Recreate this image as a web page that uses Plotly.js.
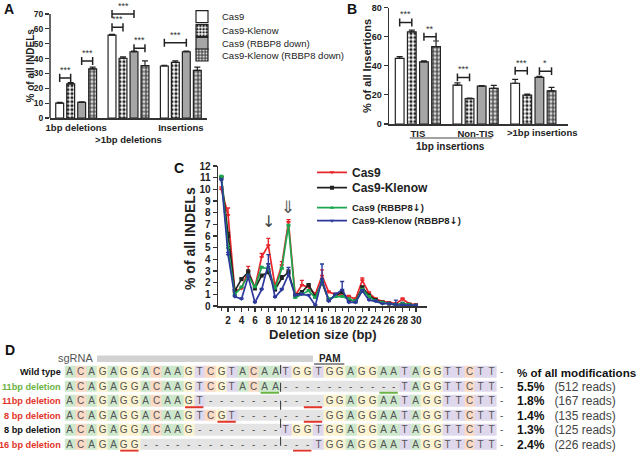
<!DOCTYPE html>
<html><head><meta charset="utf-8">
<script src="https://cdn.plot.ly/plotly-3.0.1.min.js"></script>
<style>html,body{margin:0;padding:0;background:#fff}</style>
</head><body><div id="chart" style="width:642px;height:457px"></div>
<script>
// ---------------- DATA ----------------
const seriesNames = ['Cas9', 'Cas9-Klenow', 'Cas9 (RBBP8 down)', 'Cas9-Klenow (RBBP8 down)'];

// Panel A
const groupsA = ['1bp deletions', '>1bp deletions', 'Insertions'];
const cas9A = [10, 55.8, 35];
const klenowA = [23, 40.2, 37.5];
const cas9RbA = [10.5, 44.6, 44.6];
const klenowRbA = [33, 35.2, 32];
const cas9A_err = [0.6, 0.5, 0.4];
const klenowA_err = [0.8, 0.9, 1];
const cas9RbA_err = [0.3, 0.4, 0.4];
const klenowRbA_err = [1.2, 3.2, 2.2];
const sigA_group = [0, 0, 1, 1, 1, 2];
const sigA_from = [0, 2, 0, 0, 2, 0];
const sigA_to = [1, 3, 1, 2, 3, 2];
const sigA_y = [27, 38.4, 61, 70, 46.9, 50.7];
const sigA_label = ['***', '***', '***', '***', '***', '***'];

// Panel B
const groupsB = ['TIS', 'Non-TIS', '>1bp insertions'];
const cas9B = [45, 26.7, 28];
const klenowB = [63.3, 17.4, 19.8];
const cas9RbB = [42.7, 26, 32];
const klenowRbB = [53.2, 24.5, 22.8];
const cas9B_err = [1.2, 1.6, 2.6];
const klenowB_err = [1.2, 0.4, 0.7];
const cas9RbB_err = [0.6, 0.3, 0.7];
const klenowRbB_err = [3.8, 2, 2.3];
const sigB_group = [0, 0, 1, 2, 2];
const sigB_from = [0, 2, 0, 0, 2];
const sigB_to = [1, 3, 1, 1, 3];
const sigB_y = [69.7, 59.9, 32, 36.6, 36.3];
const sigB_label = ['***', '**', '***', '***', '*'];

// Panel C
const delSize = [1,2,3,4,5,6,7,8,9,10,11,12,13,14,15,16,17,18,19,20,21,22,23,24,25,26,27,28,29,30];
const cas9C =      [10.0,7.8,1.3,1.5,3.0,1.6,4.2,5.2,1.7,3.5,7.2,0.9,1.8,1.6,1.0,2.6,1.2,1.0,0.9,0.8,0.6,2.2,1.1,0.6,0.4,0.3,0.2,0.6,0.2,0.1];
const cas9C_err =  [0.2,0.6,0.1,0.1,0.4,0.1,0.3,0.6,0.1,0.3,0.2,0.1,0.4,0.1,0.1,0.5,0.1,0.1,0.1,0.1,0.1,0.2,0.1,0.1,0.05,0.05,0.05,0.1,0.05,0.05];
const klenowC =    [11.0,6.0,1.3,2.3,2.9,1.5,2.6,2.9,1.4,2.4,2.9,0.9,1.2,1.8,0.8,2.0,0.5,0.9,1.2,0.5,0.4,1.6,0.9,0.5,0.3,0.2,0.1,0.2,0.1,0.05];
const klenowC_err =[0.1,0.3,0.1,0.1,0.2,0.1,0.1,0.3,0.1,0.2,0.2,0.1,0.1,0.1,0.1,0.2,0.1,0.1,0.1,0.1,0.1,0.1,0.1,0.1,0.05,0.05,0.05,0.05,0.05,0.05];
const cas9RbC =    [11.1,5.0,1.0,1.6,2.6,1.6,3.3,3.2,1.5,3.2,6.9,0.7,1.0,1.3,0.7,2.1,0.6,0.8,0.8,0.6,0.4,1.4,0.8,0.4,0.3,0.2,0.1,0.2,0.1,0.05];
const cas9RbC_err =[0.1,0.2,0.1,0.1,0.1,0.1,0.1,0.2,0.1,0.1,0.1,0.1,0.1,0.1,0.1,0.1,0.1,0.1,0.1,0.1,0.1,0.1,0.1,0.1,0.05,0.05,0.05,0.05,0.05,0.05];
const klenowRbC =  [10.8,4.4,0.8,0.6,2.5,0.3,1.4,3.6,0.75,1.4,2.7,0.9,1.0,0.9,0.05,2.3,0.4,1.0,1.4,0.3,0.3,1.3,0.5,0.4,0.2,0.2,0.1,0.1,0.05,0.05];
const klenowRbC_err=[0.1,0.2,0.1,0.1,0.2,0.1,0.1,0.8,0.1,0.1,0.6,0.1,0.1,0.1,0.05,1.3,0.1,0.1,0.7,0.1,0.1,0.1,0.1,0.1,0.05,0.05,0.4,0.05,0.05,0.05];
const legendC = ['Cas9', 'Cas9-Klenow', 'Cas9 (RBBP8\u2193)', 'Cas9-Klenow (RBBP8\u2193)'];

// Panel D
const rowLabels = ['Wild type', '11bp deletion', '11bp deletion', '8 bp deletion', '8 bp deletion', '16 bp deletion'];
const rowLabelColors = ['#111', '#6ab344', '#e2352a', '#e2352a', '#111', '#e2352a'];
const rowSeqs = [
  'ACAGAGGACAAGTCGTACAATGGTGGAGGAATAGGTTCTT-',
  'ACAGAGGACAAGTCGTACAA-----------TAGGTTCTT-',
  'ACAGAGGACAAGT-----------GGAGGAATAGGTTCTT-',
  'ACAGAGGACAAGTCGT--------GGAGGAATAGGTTCTT-',
  'ACAGAGGACAAG--------TGGTGGAGGAATAGGTTCTT-',
  'ACAGAGG----------------TGGAGGAATAGGTTCTT-'
];
const rowPercent = ['% of all modifications', '5.5%', '1.8%', '1.4%', '1.3%', '2.4%'];
const rowReads = [null, 512, 167, 135, 125, 226];
const mhRow = [1, 1, 2, 2, 3, 3, 5, 5];
const mhStart = [18, 29, 11, 22, 14, 22, 5, 21];
const mhColor = ['#6ab344', '#6ab344', '#e2352a', '#e2352a', '#e2352a', '#e2352a', '#e2352a', '#e2352a'];

// ---------------- HELPERS ----------------
const W = 642, H = 457;
const px = v => v / W;
const py = v => 1 - v / H;
const FONT = 'Liberation Sans, Arial, sans-serif';
const BARGAP = 0.16, BARGROUPGAP = 0.28;
function barCenter(g, k) { const slot = (1 - BARGAP) / 4; return g - (1 - BARGAP) / 2 + slot * (k + 0.5); }
const zeros = n => new Array(n).fill(0);
const boldTick = s => ({family: FONT, size: s, color: '#222', weight: 'bold'});

const barStyles = [
  {color: '#ffffff', line: {color: '#222', width: 1.2}},
  {color: '#ffffff', line: {color: '#222', width: 1.2}, pattern: {shape: '.', fgcolor: '#222', bgcolor: '#ffffff', size: 4, solidity: 0.5}},
  {color: '#a6a6a6', line: {color: '#222', width: 1.2}},
  {color: '#555555', line: {color: '#222', width: 1.2}, pattern: {shape: '.', fgcolor: '#d8d8d8', bgcolor: '#555555', size: 4, solidity: 0.45}}
];
const legendKeys = ['legend', 'legend2', 'legend3', 'legend4', 'legend5', 'legend6', 'legend7', 'legend8'];

const traces = [];
const aVals = [cas9A, klenowA, cas9RbA, klenowRbA];
const aErr = [cas9A_err, klenowA_err, cas9RbA_err, klenowRbA_err];
const bVals = [cas9B, klenowB, cas9RbB, klenowRbB];
const bErr = [cas9B_err, klenowB_err, cas9RbB_err, klenowRbB_err];
for (let k = 0; k < 4; k++) {
  traces.push({type: 'bar', x: [0, 1, 2], y: aVals[k], name: seriesNames[k], xaxis: 'x', yaxis: 'y',
    marker: barStyles[k], legend: legendKeys[k], showlegend: true, hoverinfo: 'none',
    error_y: {type: 'data', array: aErr[k], arrayminus: zeros(3), symmetric: false, color: '#222', thickness: 1.2, width: 3}});
}
for (let k = 0; k < 4; k++) {
  traces.push({type: 'bar', x: [0, 1, 2], y: bVals[k], name: seriesNames[k], xaxis: 'x2', yaxis: 'y2',
    marker: barStyles[k], showlegend: false, hoverinfo: 'none',
    error_y: {type: 'data', array: bErr[k], arrayminus: zeros(3), symmetric: false, color: '#222', thickness: 1.2, width: 3}});
}

const cVals = [cas9C, klenowC, cas9RbC, klenowRbC];
const cErr = [cas9C_err, klenowC_err, cas9RbC_err, klenowRbC_err];
const cColors = ['#e8262b', '#222222', '#1ca650', '#2d3a9c'];
const cSymbols = ['triangle-down', 'square', 'triangle-up', 'triangle-down'];
const cLegendNames = legendC.map(s => '<b>' + s.replace('\u2193', '<span style="font-family:DejaVu Sans">\u2193</span>') + '</b>');
for (let k = 0; k < 4; k++) {
  traces.push({type: 'scatter', mode: 'lines+markers', x: delSize, y: cVals[k], name: cLegendNames[k],
    xaxis: 'x3', yaxis: 'y3', legend: legendKeys[4 + k], hoverinfo: 'none', cliponaxis: false,
    line: {color: cColors[k], width: 1.7}, marker: {color: cColors[k], size: 4, symbol: cSymbols[k]},
    error_y: {type: 'data', array: cErr[k], arrayminus: zeros(delSize.length), symmetric: false, color: cColors[k], thickness: 1.4, width: 2}});
}

// Panel D heatmap
const nucCode = {A: 0, C: 1, G: 2, T: 3, '-': 4};
const zD = rowSeqs.map(s => s.split('').map((ch, i) => (i === s.length - 1 ? 5 : nucCode[ch])));
const tD = rowSeqs.map(s => s.split(''));
const nucColors = ['#cde8cd', '#fbdac6', '#fcf3d0', '#dfd8ec', '#e4e4e4', '#ffffff'];
const cs = [];
nucColors.forEach((c, i) => { cs.push([i / 6, c]); cs.push([(i + 1) / 6, c]); });
traces.push({type: 'heatmap', z: zD, text: tD, texttemplate: '%{text}', xaxis: 'x4', yaxis: 'y4',
  x: rowSeqs[0].split('').map((_, i) => i), y: rowSeqs.map((_, i) => i),
  zmin: 0, zmax: 6, colorscale: cs, showscale: false, xgap: 0, ygap: 3, hoverinfo: 'none',
  textfont: {family: FONT, size: 10, color: '#555'}});

// ---------------- SHAPES & ANNOTATIONS ----------------
const shapes = [];
const annotations = [];

// A y-axis line (0..70)
shapes.push({type: 'line', xref: 'paper', x0: px(50), x1: px(50), yref: 'y', y0: 0, y1: 70, line: {color: '#333', width: 1.5}});

function bracket(xr, yr, g, a, b, y, lab, cap) {
  const x1 = barCenter(g, a), x2 = barCenter(g, b);
  shapes.push({type: 'path', xref: xr, yref: yr, line: {color: '#222', width: 1.5},
    path: `M${x1},${y - cap} L${x1},${y + cap} M${x1},${y} L${x2},${y} M${x2},${y - cap} L${x2},${y + cap}`});
  annotations.push({xref: xr, yref: yr, x: (x1 + x2) / 2, y: y, xanchor: 'center', yanchor: 'bottom', yshift: 1, showarrow: false,
    text: lab, font: {family: FONT, size: 9, color: '#333'}});
}
for (let i = 0; i < sigA_y.length; i++) bracket('x', 'y', sigA_group[i], sigA_from[i], sigA_to[i], sigA_y[i], sigA_label[i], 2.7);
for (let i = 0; i < sigB_y.length; i++) bracket('x2', 'y2', sigB_group[i], sigB_from[i], sigB_to[i], sigB_y[i], sigB_label[i], 2.7);

// B: third category label sits a little right of its group centre
annotations.push({xref: 'x2', x: 2, xshift: 9, yref: 'paper', y: py(132), xanchor: 'center', yanchor: 'middle', showarrow: false,
  text: '<b>' + groupsB[2].replace('>', '&gt;') + '</b>', font: {family: FONT, size: 9.5, color: '#222'}});
// B: "1bp insertions" grouping line and label
shapes.push({type: 'line', xref: 'x2', x0: -0.14, x1: 1.28, yref: 'paper', y0: py(138), y1: py(138), line: {color: '#444', width: 1}});
annotations.push({xref: 'x2', x: 0.57, yref: 'paper', y: py(146.5), xanchor: 'center', yanchor: 'middle', showarrow: false,
  text: '<b>1bp insertions</b>', font: {family: FONT, size: 10, color: '#222'}});

// Axis titles
function title(text, x, y, size, angle) {
  annotations.push({xref: 'paper', yref: 'paper', x: px(x), y: py(y), xanchor: 'center', yanchor: 'middle',
    showarrow: false, textangle: angle, text: '<b>' + text + '</b>', font: {family: FONT, size: size, color: '#222'}});
}
title('% of all INDELs', 29.5, 66, 10, -90);
title('% of all Insertions', 367, 66, 11, -90);
title('% of all INDELs', 190, 238, 14, -90);
title('Deletion size (bp)', 323, 334, 13, 0);

// C arrows
annotations.push({xref: 'x3', yref: 'y3', x: 8, y: 7.25, xanchor: 'center', yanchor: 'middle', showarrow: false,
  text: '\u2193', font: {family: 'DejaVu Sans', size: 16, color: '#444'}});
annotations.push({xref: 'x3', yref: 'y3', x: 11, y: 8.5, xanchor: 'center', yanchor: 'middle', showarrow: false,
  text: '\u21D3', font: {family: 'DejaVu Sans', size: 17, color: '#555'}});

// Panel letters
[['A', 9, 9], ['B', 352, 9], ['C', 179, 168], ['D', 10, 350]].forEach(([t, x, y]) => {
  annotations.push({xref: 'paper', yref: 'paper', x: px(x), y: py(y), xanchor: 'center', yanchor: 'middle', showarrow: false,
    text: '<b>' + t + '</b>', font: {family: FONT, size: 14, color: '#111'}});
});

// D decorations
shapes.push({type: 'rect', xref: 'x4', x0: 2.5, x1: 22.5, yref: 'paper', y0: py(362), y1: py(355.5), fillcolor: '#d2d2d2', line: {width: 0}});
annotations.push({xref: 'x4', x: 2.4, xanchor: 'right', yref: 'paper', y: py(358), yanchor: 'middle', showarrow: false, text: 'sgRNA',
  font: {family: FONT, size: 11, color: '#555'}});
annotations.push({xref: 'x4', x: 24, xanchor: 'center', yref: 'paper', y: py(358.5), yanchor: 'middle', showarrow: false, text: '<b>PAM</b>',
  font: {family: FONT, size: 10, color: '#222'}});
shapes.push({type: 'line', xref: 'x4', x0: 22.6, x1: 25.4, yref: 'paper', y0: py(364), y1: py(364), line: {color: '#222', width: 1.2}});
shapes.push({type: 'line', xref: 'x4', x0: 19.5, x1: 19.5, yref: 'y4', y0: -0.5, y1: 5.5, line: {color: '#333', width: 1, dash: 'dash'}});
for (let i = 0; i < mhRow.length; i++) {
  shapes.push({type: 'line', xref: 'x4', x0: mhStart[i] - 0.35, x1: mhStart[i] + 1.35, yref: 'y4',
    y0: mhRow[i] + 0.43, y1: mhRow[i] + 0.43, line: {color: mhColor[i], width: 1.8}});
}
for (let r = 0; r < rowLabels.length; r++) {
  annotations.push({xref: 'paper', x: px(63), xanchor: 'right', yref: 'y4', y: r, yanchor: 'middle', showarrow: false,
    text: '<b>' + rowLabels[r] + '</b>', font: {family: FONT, size: 9.2, color: rowLabelColors[r]}});
  const txt = rowReads[r] === null ? '<b>' + rowPercent[r] + '</b>'
    : '<b>' + rowPercent[r] + '</b>&nbsp;&nbsp; <span style="color:#444">(' + rowReads[r] + ' reads)</span>';
  annotations.push({xref: 'paper', x: px(515), xanchor: 'left', yref: 'y4', y: r, yanchor: 'middle', showarrow: false,
    text: txt, font: {family: FONT, size: rowReads[r] === null ? 11.6 : 12, color: '#111'}});
}

// ---------------- LAYOUT ----------------
const layout = {
  width: W, height: H, margin: {l: 0, r: 0, t: 0, b: 0},
  paper_bgcolor: '#fff', plot_bgcolor: 'rgba(0,0,0,0)',
  font: {family: FONT, color: '#222'},
  barmode: 'group', bargap: BARGAP, bargroupgap: BARGROUPGAP,
  showlegend: true,
  xaxis: {domain: [px(50), px(207)], anchor: 'y', range: [-0.5, 2.5], tickvals: [0, 1, 2], tickangle: 0,
    ticktext: [groupsA[0], '<br>' + groupsA[1].replace('>', '&gt;'), groupsA[2]],
    showline: true, linecolor: '#333', linewidth: 1.5, ticks: '', showgrid: false, zeroline: false,
    tickfont: boldTick(9.5), fixedrange: true},
  yaxis: {domain: [py(118), py(3.6)], anchor: 'x', range: [0, 77], tickvals: [0, 10, 20, 30, 40, 50, 60, 70],
    showline: false, ticks: 'outside', ticklen: 4, tickwidth: 1.2, tickcolor: '#333', showgrid: false, zeroline: false,
    tickfont: boldTick(8.5)},
  xaxis2: {domain: [px(389), px(568)], anchor: 'y2', range: [-0.5, 2.6], tickvals: [0, 1], tickangle: 0,
    ticktext: [groupsB[0], groupsB[1]],
    showline: true, linecolor: '#333', linewidth: 1.5, ticks: '', showgrid: false, zeroline: false,
    tickfont: boldTick(9.5)},
  yaxis2: {domain: [py(124), py(7.5)], anchor: 'x2', range: [0, 80], dtick: 20,
    showline: true, linecolor: '#333', linewidth: 1.5, ticks: 'outside', ticklen: 4, tickwidth: 1.2, tickcolor: '#333',
    showgrid: false, zeroline: false, tickfont: boldTick(9)},
  xaxis3: {domain: [px(218), px(427)], anchor: 'y3', range: [0.5, 31.64], tickvals: [2,4,6,8,10,12,14,16,18,20,22,24,26,28,30], tickangle: 0,
    showline: true, linecolor: '#333', linewidth: 1.5, ticks: 'outside', ticklen: 4, tickwidth: 1.2, tickcolor: '#333',
    minor: {tickvals: [1,3,5,7,9,11,13,15,17,19,21,23,25,27,29], ticks: 'outside', ticklen: 3, tickcolor: '#333'},
    showgrid: false, zeroline: false, tickfont: boldTick(10)},
  yaxis3: {domain: [py(306), py(166)], anchor: 'x3', range: [0, 12], dtick: 1,
    showline: true, linecolor: '#333', linewidth: 1.5, ticks: 'outside', ticklen: 4, tickwidth: 1.2, tickcolor: '#333',
    showgrid: false, zeroline: false, tickfont: boldTick(10)},
  xaxis4: {domain: [px(64.6), px(507.4)], anchor: 'y4', range: [-0.5, 40.5], visible: false},
  yaxis4: {domain: [py(451.75), py(364.75)], anchor: 'x4', range: [5.5, -0.5], visible: false},
  shapes: shapes,
  annotations: annotations
};
// one legend per entry so entries sit at the reference spacing
const legendX = [182, 182, 182, 182, 312, 312, 312, 312];
const legendY = [16.7, 30.7, 43.3, 55, 172.3, 187.7, 207.7, 220.7];
const legendFS = [9.5, 9.5, 9.5, 9.5, 12, 12, 9.5, 9.5];
legendKeys.forEach((key, i) => {
  layout[key] = {x: px(legendX[i]), y: py(legendY[i]), xanchor: 'left', yanchor: 'middle', bgcolor: 'rgba(0,0,0,0)',
    borderwidth: 0, font: {family: FONT, size: legendFS[i], color: '#222'}};
});

Plotly.newPlot('chart', traces, layout, {staticPlot: true, displayModeBar: false});
</script></body></html>
